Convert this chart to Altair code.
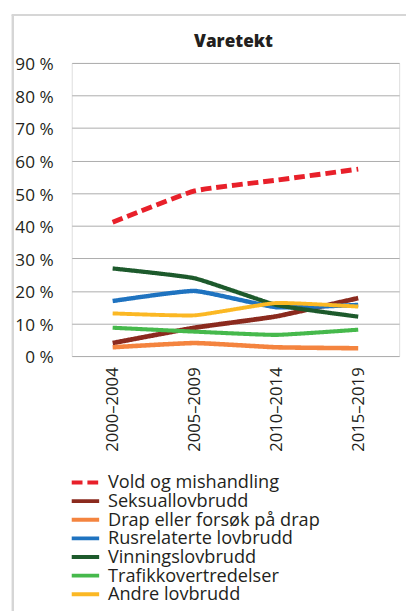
import altair as alt
import pandas as pd

periods = ["2000–2004", "2005–2009", "2010–2014", "2015–2019"]
series = [
    "Vold og mishandling",
    "Seksuallovbrudd",
    "Drap eller forsøk på drap",
    "Rusrelaterte lovbrudd",
    "Vinningslovbrudd",
    "Trafikkovertredelser",
    "Andre lovbrudd",
]
colors = ["#e8202a", "#8b2a1e", "#f4843f", "#1f73c0", "#1d5a2c", "#46b94c", "#fbb824"]
dashes = [[11, 5], [1, 0], [1, 0], [1, 0], [1, 0], [1, 0], [1, 0]]
widths = [5, 4, 4, 4, 4, 4, 4]

vold = [41.1, 50.7, 54.0, 57.4]
seksual = [4.0, 8.7, 12.2, 17.8]
drap = [2.7, 4.0, 2.7, 2.4]
rus = [16.9, 20.0, 15.0, 15.7]
vinning = [26.9, 23.9, 15.7, 12.1]
trafikk = [8.7, 7.5, 6.5, 8.1]
andre = [13.1, 12.5, 16.3, 15.2]

values = [vold, seksual, drap, rus, vinning, trafikk, andre]
rows = []
for i, (name, vals) in enumerate(zip(series, values)):
    for p, v in zip(periods, vals):
        rows.append({"serie": name, "periode": p, "andel": v, "orden": i})
df = pd.DataFrame(rows)
leg = pd.DataFrame({"serie": series, "orden": list(range(len(series)))})

FONT = "Open Sans"
TXT = "#231f20"

color_scale = alt.Scale(domain=series, range=colors)
dash_scale = alt.Scale(domain=series, range=dashes)

lines = alt.Chart(df).mark_line(interpolate="cardinal", tension=0.6, strokeCap="butt",
                                strokeJoin="round").encode(
    x=alt.X("periode:N", sort=periods, title=None,
            scale=alt.Scale(type="point", padding=0.5),
            axis=alt.Axis(labelAngle=270, labelFontSize=17, labelPadding=11, ticks=False,
                          domain=False, grid=False, labelColor=TXT, labelFont=FONT)),
    y=alt.Y("andel:Q", title=None,
            scale=alt.Scale(domain=[0, 90], nice=False),
            axis=alt.Axis(values=list(range(0, 91, 10)), labelExpr="datum.value + ' %'",
                          labelFontSize=17.5, labelPadding=19, labelOffset=2, ticks=False,
                          domain=False, grid=True, gridColor="#ababab", gridWidth=1,
                          labelColor=TXT, labelFont=FONT)),
    color=alt.Color("serie:N", sort=series, scale=color_scale, legend=None),
    strokeDash=alt.StrokeDash("serie:N", sort=series, scale=dash_scale, legend=None),
    strokeWidth=alt.StrokeWidth("serie:N", sort=series,
                                scale=alt.Scale(domain=series, range=widths),
                                legend=None),
    order=alt.Order("orden:Q", sort="descending"),
    detail="serie:N",
)

leg_y = alt.Y("serie:N", sort=series, axis=None,
              scale=alt.Scale(type="point", range=[428, 542], padding=0))

leg_sym = alt.Chart(leg).mark_rule(strokeWidth=4, strokeCap="butt").encode(
    x=alt.value(0), x2=alt.value(28), y=leg_y,
    color=alt.Color("serie:N", sort=series, scale=color_scale, legend=None),
    strokeDash=alt.StrokeDash("serie:N", sort=series, scale=dash_scale, legend=None),
)
leg_txt = alt.Chart(leg).mark_text(align="left", baseline="middle", fontSize=18.5,
                                   font=FONT, color=TXT).encode(
    x=alt.value(37), y=leg_y, text="serie:N",
)

frame_left = alt.Chart(leg).mark_rule(color="#d6d6d6", strokeWidth=2).encode(
    x=alt.value(-60), y=alt.value(-49), y2=alt.value(560))
frame_top = alt.Chart(leg).mark_rule(color="#d6d6d6", strokeWidth=2).encode(
    x=alt.value(-61), x2=alt.value(400), y=alt.value(-49))

legend = alt.layer(leg_sym, leg_txt)

chart = alt.layer(frame_left, frame_top, lines, legend).resolve_scale(
    y="independent"
).properties(
    width=334, height=299,
    autosize=alt.AutoSizeParams(type="none"),
    padding={"left": 65, "top": 50, "right": 7, "bottom": 254},
    title=alt.TitleParams("Varetekt", fontSize=17.5, fontWeight=800, font=FONT, color=TXT,
                          anchor="middle", dx=-2, offset=-37),
).configure_view(stroke=None).configure(background="white")

chart.save("out.html", embed_options={"renderer": "svg", "actions": False})
